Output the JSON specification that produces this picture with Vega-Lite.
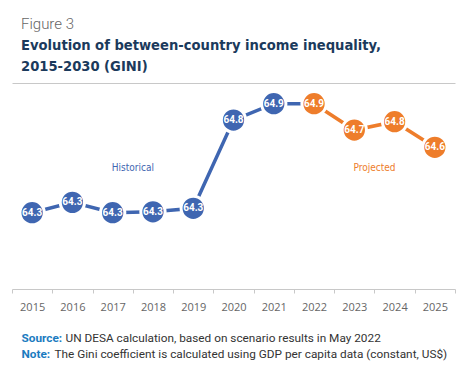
{
  "$schema": "https://vega.github.io/schema/vega-lite/v6.json",
  "width": 443,
  "height": 206,
  "autosize": "none",
  "padding": {"left": 12, "top": 83, "right": 19, "bottom": 89},
  "background": "white",
  "config": {"view": {"stroke": null}},
  "title": {
    "text": "Figure 3",
    "subtitle": ["Evolution of between-country income inequality,", "2015-2030 (GINI)"],
    "anchor": "start",
    "frame": "group",
    "dx": 9,
    "offset": 9,
    "font": "Roboto",
    "fontSize": 15,
    "fontWeight": 300,
    "color": "#666666",
    "subtitleFont": "DejaVu Sans Condensed",
    "subtitleFontSize": 14.6,
    "subtitleFontWeight": "bold",
    "subtitleColor": "#1b3a5c",
    "subtitleLineHeight": 21,
    "subtitlePadding": 6
  },
  "data": {
    "values": [
      {"year": 2015, "value": 64.3, "label": "64.3", "phase": "Historical"},
      {"year": 2016, "value": 64.357, "label": "64.3", "phase": "Historical"},
      {"year": 2017, "value": 64.3, "label": "64.3", "phase": "Historical"},
      {"year": 2018, "value": 64.305, "label": "64.3", "phase": "Historical"},
      {"year": 2019, "value": 64.324, "label": "64.3", "phase": "Historical"},
      {"year": 2020, "value": 64.81, "label": "64.8", "phase": "Historical"},
      {"year": 2021, "value": 64.9, "label": "64.9", "phase": "Historical"},
      {"year": 2022, "value": 64.9, "label": "64.9", "phase": "Projected"},
      {"year": 2023, "value": 64.755, "label": "64.7", "phase": "Projected"},
      {"year": 2024, "value": 64.801, "label": "64.8", "phase": "Projected"},
      {"year": 2025, "value": 64.66, "label": "64.6", "phase": "Projected"}
    ]
  },
  "layer": [
    {
      "transform": [{"filter": "datum.year <= 2022"}],
      "mark": {"type": "line", "color": "#3f66b1", "strokeWidth": 3.5},
      "encoding": {
        "x": {"field": "year", "type": "ordinal", "scale": {"paddingInner": 0, "paddingOuter": 0},
          "axis": {"orient": "bottom", "labelAngle": 0, "tickBand": "extent", "domainColor": "#c8c8c8", "tickColor": "#c8c8c8", "tickSize": 4, "labelFont": "Open Sans", "labelFontSize": 11, "labelColor": "#666666", "labelPadding": 8,
            "title": "Source:", "titleX": 9, "titleY": 52, "titleAlign": "left", "titleBaseline": "alphabetic", "titleFont": "Roboto", "titleFontSize": 11.8, "titleFontWeight": "bold", "titleColor": "#1b7bbf"}},
        "y": {"field": "value", "type": "quantitative", "scale": {"domain": [63.88, 65.014], "zero": false, "nice": false},
          "axis": {"orient": "left", "labels": false, "ticks": false, "domain": false, "grid": false,
            "title": "UN DESA calculation, based on scenario results in May 2022", "titleAngle": 0, "titleX": 53, "titleY": 258, "titleAlign": "left", "titleBaseline": "alphabetic", "titleFont": "Roboto", "titleFontSize": 11.8, "titleFontWeight": "normal", "titleColor": "#333333"}}
      }
    },
    {
      "transform": [{"filter": "datum.year >= 2022"}],
      "mark": {"type": "line", "color": "#ee7d2b", "strokeWidth": 3.5},
      "encoding": {
        "x": {"field": "year", "type": "ordinal",
          "axis": {"orient": "top", "labels": false, "ticks": false, "domainColor": "#c8c8c8",
            "title": "Note:", "titleX": 9, "titleY": 274, "titleAlign": "left", "titleBaseline": "alphabetic", "titleFont": "Roboto", "titleFontSize": 11.8, "titleFontWeight": "bold", "titleColor": "#1b7bbf"}},
        "y": {"field": "value", "type": "quantitative",
          "axis": {"orient": "right", "labels": false, "ticks": false, "domain": false, "grid": false,
            "title": "The Gini coefficient is calculated using GDP per capita data (constant, US$)", "titleAngle": 0, "titleX": -401, "titleY": 274, "titleAlign": "left", "titleBaseline": "alphabetic", "titleFont": "Roboto", "titleFontSize": 11.8, "titleFontWeight": "normal", "titleColor": "#333333"}}
      }
    },
    {
      "mark": {"type": "point", "shape": "circle", "filled": true, "size": 590, "stroke": "white", "strokeWidth": 3, "opacity": 1},
      "encoding": {
        "x": {"field": "year", "type": "ordinal", "axis": null},
        "y": {"field": "value", "type": "quantitative", "axis": null},
        "color": {"field": "phase", "type": "nominal", "scale": {"domain": ["Historical", "Projected"], "range": ["#3f66b1", "#ee7d2b"]}, "legend": null}
      }
    },
    {
      "mark": {"type": "text", "color": "white", "font": "Roboto", "fontSize": 10, "fontWeight": "bold", "baseline": "middle", "align": "center"},
      "encoding": {
        "x": {"field": "year", "type": "ordinal", "axis": null},
        "y": {"field": "value", "type": "quantitative", "axis": null},
        "text": {"field": "label"}
      }
    },
    {
      "data": {"values": [
        {"year": 2017, "value": 64.546, "text": "Historical", "phase": "Historical"},
        {"year": 2023, "value": 64.546, "text": "Projected", "phase": "Projected"}
      ]},
      "mark": {"type": "text", "font": "DejaVu Sans Condensed", "fontSize": 10, "baseline": "middle", "align": "center"},
      "encoding": {
        "x": {"field": "year", "type": "ordinal", "bandPosition": 1, "axis": null},
        "y": {"field": "value", "type": "quantitative", "axis": null},
        "text": {"field": "text"},
        "color": {"field": "phase", "type": "nominal", "legend": null}
      }
    }
  ],
  "resolve": {"axis": {"x": "independent", "y": "independent"}}
}
